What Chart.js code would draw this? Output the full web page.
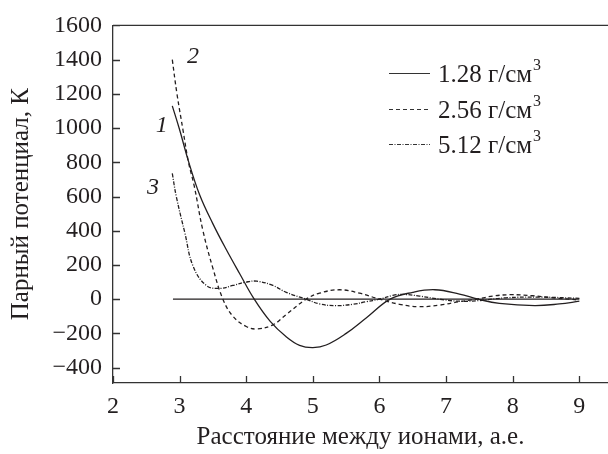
<!DOCTYPE html>
<html lang="ru">
<head>
<meta charset="utf-8">
<title>Парный потенциал</title>
<script src="https://cdn.jsdelivr.net/npm/chart.js"></script>
<style>
  html, body { margin: 0; padding: 0; background: #fff; }
  #wrap { width: 608px; height: 454px; position: relative; }
</style>
</head>
<body>
<div id="wrap"><canvas id="potChart"></canvas></div>
<script>
// data
const seriesNames = ['1.28 г/см', '2.56 г/см', '5.12 г/см'];
const curveTags = ['1', '2', '3'];

const dist1 = [2.89, 3.0, 3.13, 3.3, 3.5, 3.7, 3.9, 4.12, 4.36, 4.6, 4.8, 5.0, 5.2, 5.5, 5.8, 6.16, 6.5, 6.83, 7.2, 7.48, 7.8, 8.33, 8.7, 9.0];
const pot1  = [1130, 990, 810, 610, 440, 290, 150, 0, -130, -220, -270, -283, -268, -200, -110, 0, 40, 55, 30, 0, -25, -38, -28, -12];

const dist2 = [2.89, 2.96, 3.05, 3.13, 3.22, 3.35, 3.5, 3.65, 3.8, 4.0, 4.16, 4.4, 4.6, 4.9, 5.1, 5.4, 5.7, 6.0, 6.3, 6.58, 6.9, 7.2, 7.46, 7.7, 7.96, 8.3, 8.6, 9.0];
const pot2  = [1400, 1200, 990, 806, 660, 400, 180, 0, -100, -160, -174, -150, -90, 0, 35, 55, 35, 0, -30, -44, -35, -15, 0, 18, 26, 20, 8, -5];

const dist3 = [2.89, 2.95, 3.08, 3.2, 3.4, 3.6, 3.8, 4.0, 4.16, 4.4, 4.6, 4.9, 5.1, 5.35, 5.6, 5.8, 6.0, 6.2, 6.35, 6.6, 6.9, 7.2, 7.5, 7.9, 8.4, 9.0];
const pot3  = [735, 600, 385, 195, 80, 63, 80, 100, 105, 80, 40, 0, -28, -38, -30, -15, 0, 22, 28, 18, 0, -12, -8, 8, 12, 5];

const zeroDist = [2.9, 9.0];
const zeroPot  = [0, 0];

const xTicks = [2, 3, 4, 5, 6, 7, 8, 9];
const yTicks = [-400, -200, 0, 200, 400, 600, 800, 1000, 1200, 1400, 1600];

const ink = '#231f20';
const serif = '"Liberation Serif", "DejaVu Serif", serif';

const toPoints = (xs, ys) => xs.map((x, i) => ({ x: x, y: ys[i] }));

const dashes = [[], [4, 3], [4, 1.5, 1, 1.5]];

const datasets = [
  { data: toPoints(dist1, pot1) },
  { data: toPoints(dist2, pot2) },
  { data: toPoints(dist3, pot3) },
  { data: toPoints(zeroDist, zeroPot) }
].map((d, i) => Object.assign(d, {
  borderColor: ink,
  borderWidth: 1.3,
  borderDash: i < 3 ? dashes[i] : [],
  pointRadius: 0,
  tension: 0.4,
  fill: false
}));

// tick marks inside, top frame line, curve tags and the legend
const decor = {
  id: 'decor',
  afterDraw(chart) {
    const ctx = chart.ctx;
    const a = chart.chartArea;
    const xs = chart.scales.x, ys = chart.scales.y;
    ctx.save();
    ctx.strokeStyle = '#333';
    ctx.lineWidth = 1.3;
    ctx.beginPath();
    ctx.moveTo(a.left, a.top); ctx.lineTo(a.right, a.top);
    xTicks.forEach(v => {
      const px = Math.round(xs.getPixelForValue(v)) + 0.5;
      ctx.moveTo(px, a.bottom); ctx.lineTo(px, a.bottom - 7);
    });
    yTicks.forEach(v => {
      const py = Math.round(ys.getPixelForValue(v)) + 0.5;
      ctx.moveTo(a.left, py); ctx.lineTo(a.left + 7, py);
    });
    ctx.stroke();

    // curve tags
    ctx.fillStyle = ink;
    ctx.font = 'italic 24px ' + serif;
    ctx.textAlign = 'center';
    ctx.textBaseline = 'middle';
    const tagPos = [[2.73, 1015], [3.2, 1420], [2.6, 650]];
    tagPos.forEach((p, i) => {
      ctx.fillText(curveTags[i], xs.getPixelForValue(p[0]), ys.getPixelForValue(p[1]));
    });

    // legend
    const rows = [73, 109, 144];
    rows.forEach((y, i) => {
      ctx.strokeStyle = '#333';
      ctx.setLineDash(dashes[i]);
      ctx.lineWidth = 1.1;
      ctx.beginPath();
      ctx.moveTo(389, y + 0.5); ctx.lineTo(430, y + 0.5);
      ctx.stroke();
      ctx.setLineDash([]);
      ctx.textAlign = 'left';
      ctx.textBaseline = 'alphabetic';
      ctx.font = '25px ' + serif;
      ctx.fillText(seriesNames[i], 438, y + 9);
      const w = ctx.measureText(seriesNames[i]).width;
      ctx.font = '16px ' + serif;
      ctx.fillText('3', 438 + w + 1, y - 3);
    });
    ctx.restore();
  }
};

const fmt = v => (v < 0 ? '\u2212' + Math.abs(v) : String(v));

new Chart(document.getElementById('potChart'), {
  type: 'line',
  data: { datasets: datasets },
  plugins: [decor],
  options: {
    responsive: true,
    maintainAspectRatio: false,
    animation: false,
    layout: { padding: { top: 18, right: 0, left: 0, bottom: 0 } },
    plugins: { legend: { display: false }, tooltip: { enabled: false } },
    scales: {
      x: {
        type: 'linear',
        min: 2,
        max: 9.43,
        afterBuildTicks: s => { s.ticks = xTicks.map(v => ({ value: v })); },
        afterFit: s => { s.height = 71; },
        grid: { drawOnChartArea: false, drawTicks: false },
        border: { color: '#333', width: 1.3 },
        ticks: { color: ink, font: { family: serif, size: 24 }, padding: 9, maxRotation: 0, callback: v => fmt(v) },
        title: { display: true, text: 'Расстояние между ионами, а.е.', color: ink, font: { family: serif, size: 25 }, padding: { top: 0, bottom: 2 } }
      },
      y: {
        type: 'linear',
        min: -490,
        max: 1600,
        afterBuildTicks: s => { s.ticks = yTicks.map(v => ({ value: v })); },
        afterFit: s => { s.width = 113; },
        grid: { drawOnChartArea: false, drawTicks: false },
        border: { color: '#333', width: 1.3 },
        ticks: { color: ink, font: { family: serif, size: 24 }, padding: 11, callback: v => fmt(v) },
        title: { display: true, text: 'Парный потенциал, К', color: ink, font: { family: serif, size: 25 }, padding: { top: 6, bottom: 0 } }
      }
    }
  }
});
</script>
</body>
</html>
